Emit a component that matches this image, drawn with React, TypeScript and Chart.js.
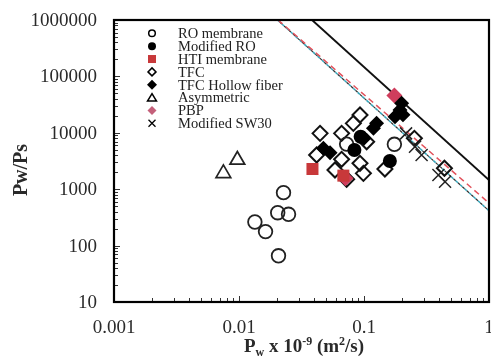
import React, { useEffect, useRef } from 'react';
import { Chart, registerables } from 'chart.js';

Chart.register(...registerables);

// ---- data ----
const roX = [0.0134, 0.0163, 0.0204, 0.0249, 0.0227, 0.0207, 0.0726, 0.175];
const roY = [262, 177, 383, 359, 868, 66, 6300, 6250];

const modRoX = [0.0838, 0.094, 0.161];
const modRoY = [4950, 8530, 3160];

const htiX = [0.0387, 0.0684];
const htiY = [2280, 1740];

const tfcX = [0.0445, 0.0418, 0.0662, 0.0662, 0.0586, 0.0822, 0.0929, 0.105, 0.0929, 0.0989, 0.0726, 0.147, 0.253, 0.44];
const tfcY = [9770, 4040, 9770, 3390, 2190, 14700, 20700, 6950, 2880, 1910, 1500, 2280, 7980, 2350];

const hfX = [0.0473, 0.0535, 0.119, 0.126, 0.1, 0.177, 0.194, 0.2, 0.205];
const hfY = [5310, 4430, 12000, 14700, 8000, 19300, 25300, 33300, 21000];

const asymX = [0.0075, 0.0097];
const asymY = [1910, 3300];

const pbpX = [0.175, 0.071];
const pbpY = [46000, 1560];

const sw30X = [0.217, 0.256, 0.289, 0.394, 0.445];
const sw30Y = [9770, 5680, 4040, 1790, 1360];

// upper-bound lines
const boundBlackX = [0.0384, 1];
const boundBlackY = [1000000, 1456];
const boundRedX = [0.0205, 1];
const boundRedY = [1000000, 569];
const boundCyanX = [0.0203, 1];
const boundCyanY = [1000000, 415];

const xTickValues = [0.001, 0.01, 0.1, 1];
const xTickLabels = ['0.001', '0.01', '0.1', '1'];
const yTickValues = [10, 100, 1000, 10000, 100000, 1000000];
const yTickLabels = ['10', '100', '1000', '10000', '100000', '1000000'];

const legendLabels = ['RO membrane', 'Modified RO', 'HTI membrane', 'TFC', 'TFC Hollow fiber', 'Asymmetric', 'PBP', 'Modified SW30'];

const RED = '#c8383a';
const PINK = '#cf3d5c';
const SERIF = '"Liberation Serif", "Times New Roman", serif';

const pts = (xs: number[], ys: number[]) => xs.map((x, i) => ({ x, y: ys[i] }));

function drawSymbol(ctx: CanvasRenderingContext2D, i: number, x: number, y: number) {
  ctx.save();
  ctx.lineWidth = 1.5;
  ctx.strokeStyle = '#000';
  ctx.fillStyle = '#000';
  ctx.beginPath();
  switch (i) {
    case 0:
      ctx.arc(x, y, 3.3, 0, Math.PI * 2);
      ctx.stroke();
      break;
    case 1:
      ctx.arc(x, y, 4, 0, Math.PI * 2);
      ctx.fill();
      break;
    case 2:
      ctx.fillStyle = RED;
      ctx.fillRect(x - 4, y - 4, 8, 8);
      break;
    case 3:
      ctx.moveTo(x, y - 4);
      ctx.lineTo(x + 4, y);
      ctx.lineTo(x, y + 4);
      ctx.lineTo(x - 4, y);
      ctx.closePath();
      ctx.stroke();
      break;
    case 4:
      ctx.moveTo(x, y - 5);
      ctx.lineTo(x + 5, y);
      ctx.lineTo(x, y + 5);
      ctx.lineTo(x - 5, y);
      ctx.closePath();
      ctx.fill();
      break;
    case 5:
      ctx.moveTo(x, y - 4);
      ctx.lineTo(x + 4.5, y + 3.5);
      ctx.lineTo(x - 4.5, y + 3.5);
      ctx.closePath();
      ctx.stroke();
      break;
    case 6:
      ctx.fillStyle = '#c4607a';
      ctx.moveTo(x, y - 4.5);
      ctx.lineTo(x + 4.5, y);
      ctx.lineTo(x, y + 4.5);
      ctx.lineTo(x - 4.5, y);
      ctx.closePath();
      ctx.fill();
      break;
    case 7:
      ctx.lineWidth = 1.3;
      ctx.moveTo(x - 3.5, y - 3.5);
      ctx.lineTo(x + 3.5, y + 3.5);
      ctx.moveTo(x + 3.5, y - 3.5);
      ctx.lineTo(x - 3.5, y + 3.5);
      ctx.stroke();
      break;
  }
  ctx.restore();
}

const framePlugin = {
  id: 'frame',
  afterDatasetsDraw(chart: any) {
    const { ctx, chartArea: a, scales } = chart;
    const xs = scales.x;
    const ys = scales.y;
    ctx.save();

    // minor / major ticks inside the frame
    ctx.strokeStyle = '#333';
    ctx.lineWidth = 1;
    ctx.beginPath();
    for (let d = -3; d < 0; d++) {
      for (let m = 1; m <= 9; m++) {
        const v = m * Math.pow(10, d);
        const px = Math.round(xs.getPixelForValue(v)) + 0.5;
        const len = m === 1 ? 6 : 4;
        ctx.moveTo(px, a.bottom);
        ctx.lineTo(px, a.bottom - len);
      }
    }
    for (let d = 1; d < 6; d++) {
      for (let m = 1; m <= 9; m++) {
        const v = m * Math.pow(10, d);
        const py = Math.round(ys.getPixelForValue(v)) + 0.5;
        const len = m === 1 ? 6 : 4;
        ctx.moveTo(a.left, py);
        ctx.lineTo(a.left + len, py);
      }
    }
    ctx.stroke();

    // frame
    ctx.strokeStyle = '#000';
    ctx.lineWidth = 2.2;
    ctx.strokeRect(a.left, a.top, a.right - a.left, a.bottom - a.top);

    // tick labels
    ctx.fillStyle = '#2a2a2a';
    ctx.font = `19px ${SERIF}`;
    ctx.textAlign = 'center';
    ctx.textBaseline = 'middle';
    xTickValues.forEach((v, i) => {
      ctx.fillText(xTickLabels[i], xs.getPixelForValue(v), 328);
    });
    ctx.textAlign = 'right';
    yTickValues.forEach((v, i) => {
      ctx.fillText(yTickLabels[i], 97, ys.getPixelForValue(v) + 1);
    });

    // y title
    ctx.save();
    ctx.translate(22, 170);
    ctx.rotate(-Math.PI / 2);
    ctx.font = `bold 20px ${SERIF}`;
    ctx.textAlign = 'center';
    ctx.textBaseline = 'middle';
    ctx.fillText('Pw/Ps', 0, 0);
    ctx.restore();

    // x title with sub/superscripts
    const big = `bold 19px ${SERIF}`;
    const small = `bold 12px ${SERIF}`;
    const parts: [string, string, number][] = [
      ['P', big, 0],
      ['w', small, 4],
      [' x 10', big, 0],
      ['-9', small, -7],
      [' (m', big, 0],
      ['2', small, -7],
      ['/s)', big, 0],
    ];
    let total = 0;
    parts.forEach(([t, f]) => {
      ctx.font = f;
      total += ctx.measureText(t).width;
    });
    let cx = 304 - total / 2;
    ctx.textAlign = 'left';
    ctx.textBaseline = 'alphabetic';
    parts.forEach(([t, f, dy]) => {
      ctx.font = f;
      ctx.fillText(t, cx, 352 + dy);
      cx += ctx.measureText(t).width;
    });

    // legend
    ctx.font = `14.5px ${SERIF}`;
    ctx.textBaseline = 'middle';
    legendLabels.forEach((lab, i) => {
      const y = 33.3 + i * 12.86;
      drawSymbol(ctx, i, 152, y);
      ctx.fillStyle = '#222';
      ctx.textAlign = 'left';
      ctx.fillText(lab, 178, y + 1);
    });

    ctx.restore();
  },
};

export default function App() {
  const ref = useRef<HTMLCanvasElement>(null);
  useEffect(() => {
    document.body.style.margin = '0';
    const open = 'rgba(0,0,0,0)';
    const chart = new Chart(ref.current as HTMLCanvasElement, {
      type: 'scatter',
      data: {
        datasets: [
          { label: 'bound', data: pts(boundBlackX, boundBlackY), showLine: true, borderColor: '#111', borderWidth: 1.9, pointRadius: 0, order: 10 } as any,
          { label: 'bound red', data: pts(boundRedX, boundRedY), showLine: true, borderColor: '#e2525c', borderWidth: 1.5, borderDash: [6, 4], pointRadius: 0, order: 10 } as any,
          { label: 'bound cyan', data: pts(boundCyanX, boundCyanY), showLine: true, borderColor: '#35a6bb', borderWidth: 1.5, borderDash: [3, 3], pointRadius: 0, order: 10 } as any,
          { label: 'bound dark', data: pts(boundCyanX, boundCyanY), showLine: true, borderColor: '#333', borderWidth: 1.2, borderDash: [3, 3], borderDashOffset: 3, pointRadius: 0, order: 10 } as any,
          { label: 'RO membrane', data: pts(roX, roY), pointStyle: 'circle', pointRadius: 6.8, borderColor: '#222', backgroundColor: open, pointBorderWidth: 1.8, order: 5 } as any,
          { label: 'TFC', data: pts(tfcX, tfcY), pointStyle: 'rectRot', pointRadius: 7.5, borderColor: '#111', backgroundColor: open, pointBorderWidth: 2, order: 5 } as any,
          { label: 'Asymmetric', data: pts(asymX, asymY), pointStyle: 'triangle', pointRadius: 8.5, borderColor: '#222', backgroundColor: open, pointBorderWidth: 1.7, order: 5 } as any,
          { label: 'HTI membrane', data: pts(htiX, htiY), pointStyle: 'rect', pointRadius: 8.5, borderColor: RED, backgroundColor: RED, pointBorderWidth: 0, order: 4 } as any,
          { label: 'PBP', data: pts(pbpX, pbpY), pointStyle: 'rectRot', pointRadius: 8, borderColor: PINK, backgroundColor: PINK, pointBorderWidth: 0, order: 4 } as any,
          { label: 'Modified RO', data: pts(modRoX, modRoY), pointStyle: 'circle', pointRadius: 7, borderColor: '#000', backgroundColor: '#000', pointBorderWidth: 0, order: 3 } as any,
          { label: 'TFC Hollow fiber', data: pts(hfX, hfY), pointStyle: 'rectRot', pointRadius: 7.5, borderColor: '#000', backgroundColor: '#000', pointBorderWidth: 0, order: 3 } as any,
          { label: 'Modified SW30', data: pts(sw30X, sw30Y), pointStyle: 'crossRot', pointRadius: 8.5, borderColor: '#222', backgroundColor: '#222', pointBorderWidth: 1.5, order: 3 } as any,
        ],
      },
      options: {
        responsive: false,
        animation: false,
        events: [],
        layout: { autoPadding: false, padding: { left: 114, top: 20, right: 2, bottom: 60 } },
        plugins: { legend: { display: false }, tooltip: { enabled: false } },
        scales: {
          x: { type: 'logarithmic', min: 0.001, max: 1, display: false },
          y: { type: 'logarithmic', min: 10, max: 1000000, display: false },
        },
      },
      plugins: [framePlugin],
    });
    return () => chart.destroy();
  }, []);
  return (
    <div style={{ width: 491, height: 362, background: '#fff' }}>
      <canvas ref={ref} width={491} height={362} style={{ display: 'block' }} />
    </div>
  );
}
